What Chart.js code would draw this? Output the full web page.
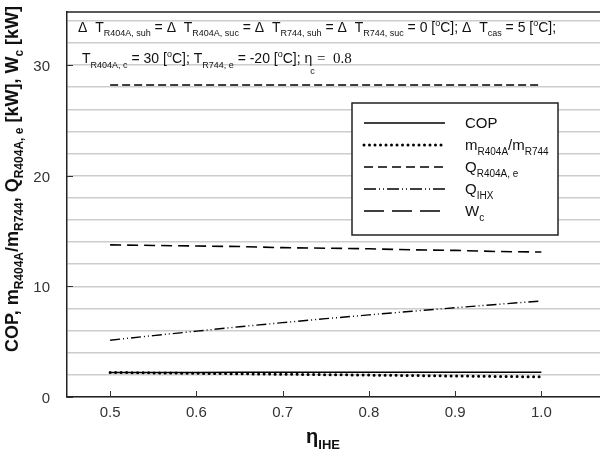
<!DOCTYPE html>
<html>
<head>
<meta charset="utf-8">
<script src="https://cdn.jsdelivr.net/npm/chart.js@4"></script>
<style>
  body { margin: 0; background: #fff; }
  canvas { display: block; }
</style>
</head>
<body>
<canvas id="chart" width="600" height="457"></canvas>
<script>
// dados
const etaIHE = [0.5, 0.55, 0.6, 0.65, 0.7, 0.75, 0.8, 0.85, 0.9, 0.95, 1.0];
const copValues = [2.22, 2.22, 2.22, 2.23, 2.23, 2.23, 2.23, 2.24, 2.24, 2.24, 2.24];
const massRatio = [2.22, 2.18, 2.14, 2.10, 2.06, 2.02, 1.98, 1.94, 1.90, 1.86, 1.82];
const qR404Ae = [28.2, 28.2, 28.2, 28.2, 28.2, 28.2, 28.2, 28.2, 28.2, 28.2, 28.2];
const qIHX = [5.13, 5.55, 5.95, 6.35, 6.72, 7.08, 7.42, 7.75, 8.07, 8.38, 8.68];
const wC = [13.75, 13.7, 13.65, 13.6, 13.5, 13.45, 13.4, 13.3, 13.25, 13.15, 13.1];
const xTicks = [0.5, 0.6, 0.7, 0.8, 0.9, 1.0];
const yLabels = [0, 10, 20, 30];
const yGrid = [0, 2, 4, 6, 8, 10, 12, 14, 16, 18, 20, 22, 24, 26, 28, 30, 32, 34];

const SANS = '"Liberation Sans", Arial, sans-serif';
const SERIF = '"Liberation Serif", "Times New Roman", serif';

const toPts = arr => arr.map((v, i) => ({ x: etaIHE[i], y: v }));

// [texto, tipo] -> n normal, b subscrito, p sobrescrito
function fontFor(k, size, weight) {
    if (k === 'b') return `${weight} ${Math.round(size * 0.66)}px ${SANS}`;
    if (k === 'p') return `${weight} ${Math.round(size * 0.62)}px ${SANS}`;
    return `${weight} ${size}px ${SANS}`;
}
function richWidth(ctx, parts, size, weight) {
    let w = 0;
    parts.forEach(([t, k]) => {
        ctx.font = fontFor(k, size, weight);
        w += ctx.measureText(t).width;
    });
    return w;
}
function drawRich(ctx, x, y, parts, size, weight, subDrop) {
    ctx.textBaseline = 'alphabetic';
    ctx.textAlign = 'left';
    parts.forEach(([t, k]) => {
        ctx.font = fontFor(k, size, weight);
        let dy = 0;
        if (k === 'b') dy = size * (subDrop || 0.32);
        if (k === 'p') dy = -size * 0.42;
        ctx.fillText(t, x, y + dy);
        x += ctx.measureText(t).width;
    });
    return x;
}

const note1 = [['Δ  T', 'n'], ['R404A, suh', 'b'], [' = Δ  T', 'n'], ['R404A, suc', 'b'], [' = Δ  T', 'n'], ['R744, suh', 'b'],
    [' = Δ  T', 'n'], ['R744, suc', 'b'], [' = 0 [', 'n'], ['o', 'p'], ['C]; Δ  T', 'n'], ['cas', 'b'], [' = 5 [', 'n'], ['o', 'p'], ['C];', 'n']];
const note2 = [['T', 'n'], ['R404A, c', 'b'], [' = 30 [', 'n'], ['o', 'p'], ['C]; T', 'n'], ['R744, e', 'b'], [' = -20 [', 'n'], ['o', 'p'], ['C]; η', 'n']];

const yTitle = [['COP, m', 'n'], ['R404A', 'b'], ['/m', 'n'], ['R744', 'b'], [', Q', 'n'], ['R404A, e', 'b'], [' [kW], W', 'n'], ['c', 'b'], [' [kW]', 'n']];
const xTitle = [['η', 'n'], ['IHE', 'b']];

const legendItems = [
    { parts: [['COP', 'n']], dash: [], width: 1.5, cap: 'butt' },
    { parts: [['m', 'n'], ['R404A', 'b'], ['/m', 'n'], ['R744', 'b']], dash: [0, 5.5], width: 3, cap: 'round' },
    { parts: [['Q', 'n'], ['R404A, e', 'b']], dash: [9, 5], width: 1.5, cap: 'butt' },
    { parts: [['Q', 'n'], ['IHX', 'b']], dash: [12, 3, 1, 3, 1, 3], width: 1.4, cap: 'butt' },
    { parts: [['W', 'n'], ['c', 'b']], dash: [20, 8], width: 1.5, cap: 'butt' }
];

const decorPlugin = {
    id: 'decor',
    afterDraw(chart) {
        const ctx = chart.ctx;
        const area = chart.chartArea;
        const xs = chart.scales.x, ys = chart.scales.y;
        ctx.save();

        // borda superior
        ctx.strokeStyle = '#222';
        ctx.lineWidth = 1.5;
        ctx.beginPath();
        ctx.moveTo(area.left, area.top);
        ctx.lineTo(600, area.top);
        ctx.stroke();

        // marcas dos eixos e rótulos do eixo y
        ctx.lineWidth = 1;
        ctx.strokeStyle = '#333';
        xTicks.forEach(v => {
            const px = Math.round(xs.getPixelForValue(v)) + 0.5;
            ctx.beginPath();
            ctx.moveTo(px, area.bottom);
            ctx.lineTo(px, area.bottom - 6);
            ctx.stroke();
        });
        ctx.fillStyle = '#333';
        ctx.font = `15px ${SANS}`;
        ctx.textAlign = 'right';
        ctx.textBaseline = 'middle';
        yLabels.forEach(v => {
            const py = Math.round(ys.getPixelForValue(v)) + 0.5;
            ctx.beginPath();
            ctx.moveTo(area.left, py);
            ctx.lineTo(area.left + 6, py);
            ctx.stroke();
            ctx.fillText(String(v), 50, py + 1);
        });

        // anotação do topo
        ctx.fillStyle = '#111';
        drawRich(ctx, 78, 32, note1, 14, 'normal', 0.3);
        let xe = drawRich(ctx, 82, 63, note2, 14, 'normal', 0.36);
        ctx.font = `9px ${SANS}`;
        ctx.fillText('c', xe - 2, 74);
        ctx.font = `15px ${SERIF}`;
        ctx.fillText(' =  0.8', xe + 1, 63);

        // legenda
        const lx = 352, ly = 103, lw = 206, lh = 132;
        ctx.fillStyle = '#fff';
        ctx.fillRect(lx, ly, lw, lh);
        ctx.strokeStyle = '#222';
        ctx.lineWidth = 1.5;
        ctx.strokeRect(lx, ly, lw, lh);
        legendItems.forEach((it, i) => {
            const cy = 123 + i * 22;
            ctx.save();
            ctx.strokeStyle = '#000';
            ctx.lineWidth = it.width;
            ctx.lineCap = it.cap;
            ctx.setLineDash(it.dash);
            ctx.beginPath();
            ctx.moveTo(364, cy);
            ctx.lineTo(445, cy);
            ctx.stroke();
            ctx.restore();
            ctx.fillStyle = '#111';
            drawRich(ctx, 465, cy + 5, it.parts, 15, 'normal', 0.35);
        });

        // título do eixo y
        ctx.fillStyle = '#111';
        const tw = richWidth(ctx, yTitle, 18, 'bold');
        ctx.save();
        ctx.translate(18, 179);
        ctx.rotate(-Math.PI / 2);
        drawRich(ctx, -tw / 2, 0, yTitle, 18, 'bold', 0.3);
        ctx.restore();

        // título do eixo x
        const xw = richWidth(ctx, xTitle, 20, 'bold');
        drawRich(ctx, 323 - xw / 2, 443, xTitle, 20, 'bold', 0.3);

        ctx.restore();
    }
};

const ctx = document.getElementById('chart').getContext('2d');
new Chart(ctx, {
    type: 'line',
    data: {
        datasets: [
            { label: 'COP', data: toPts(copValues), borderColor: '#000', borderWidth: 1.5 },
            { label: 'm ratio', data: toPts(massRatio), borderColor: '#000', borderWidth: 3, borderDash: [0, 5.5], borderCapStyle: 'round' },
            { label: 'Q R404A,e', data: toPts(qR404Ae), borderColor: '#000', borderWidth: 1.5, borderDash: [8, 4] },
            { label: 'Q IHX', data: toPts(qIHX), borderColor: '#000', borderWidth: 1.4, borderDash: [10, 3, 1, 3, 1, 3] },
            { label: 'W c', data: toPts(wC), borderColor: '#000', borderWidth: 1.6, borderDash: [11, 6] }
        ].map(d => Object.assign({ pointRadius: 0, tension: 0, fill: false }, d))
    },
    options: {
        responsive: false,
        animation: false,
        devicePixelRatio: 1,
        layout: { padding: { top: 12, right: 0, left: 0, bottom: 0 } },
        plugins: { legend: { display: false }, tooltip: { enabled: false } },
        scales: {
            x: {
                type: 'linear',
                min: 0.45,
                max: 1.068,
                afterBuildTicks: s => { s.ticks = xTicks.map(v => ({ value: v })); },
                afterFit: s => { s.height = 60; },
                grid: { display: false, drawTicks: false },
                border: { display: true, color: '#222', width: 1.5 },
                ticks: {
                    padding: 7,
                    color: '#333',
                    font: { family: SANS, size: 15 },
                    callback: v => v.toFixed(1)
                }
            },
            y: {
                min: 0,
                max: 34.8,
                afterBuildTicks: s => { s.ticks = yGrid.map(v => ({ value: v })); },
                afterFit: s => { s.width = 67; },
                grid: { color: '#cdcdcd', lineWidth: 1.5, drawTicks: false },
                border: { display: true, color: '#222', width: 1.5 },
                ticks: { display: false }
            }
        }
    },
    plugins: [decorPlugin]
});
</script>
</body>
</html>
